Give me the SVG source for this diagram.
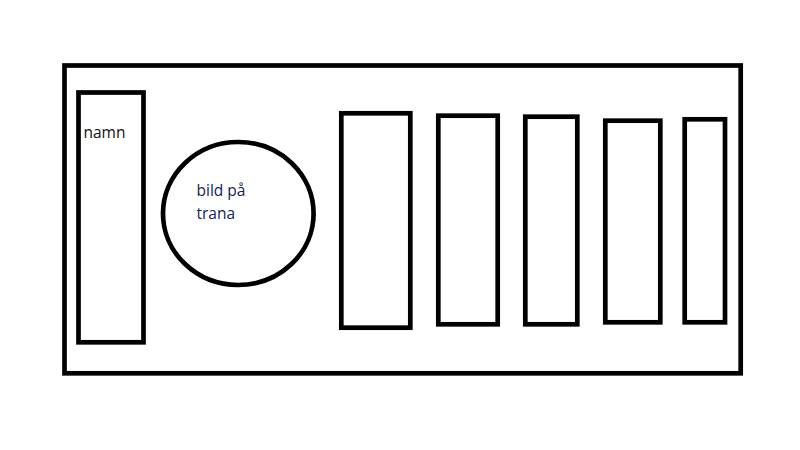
<svg xmlns="http://www.w3.org/2000/svg" width="800" height="450" viewBox="0 0 800 450">
<style>
.box{fill:none;stroke:#000;stroke-width:4.7}
.lbl{font-family:"Open Sans","Liberation Sans",Arial,sans-serif;font-size:15.5px}
</style>
<rect width="800" height="450" fill="#fff"/>
<g id="frame"><rect class="box" x="64.5" y="65.5" width="676.2" height="307.8"/></g>
<g id="namn"><rect class="box" x="78.5" y="92.5" width="65" height="249.8"/><text class="lbl" x="83.5" y="138" fill="#111">namn</text></g>
<g id="bild"><ellipse class="box" cx="238.3" cy="213.5" rx="75.3" ry="71.5"/><text class="lbl" fill="#13235a"><tspan x="196.5" y="196">bild på</tspan><tspan x="196.5" y="219">trana</tspan></text></g>
<g id="col1"><rect class="box" x="341.3" y="113.3" width="69" height="214.4"/></g>
<g id="col2"><rect class="box" x="438.3" y="115.7" width="59.4" height="208.6"/></g>
<g id="col3"><rect class="box" x="525.3" y="116.7" width="52" height="207.6"/></g>
<g id="col4"><rect class="box" x="605.3" y="120.7" width="55" height="201.6"/></g>
<g id="col5"><rect class="box" x="684.7" y="119.3" width="40.3" height="203"/></g>
<g id="connectors"></g>
</svg>
